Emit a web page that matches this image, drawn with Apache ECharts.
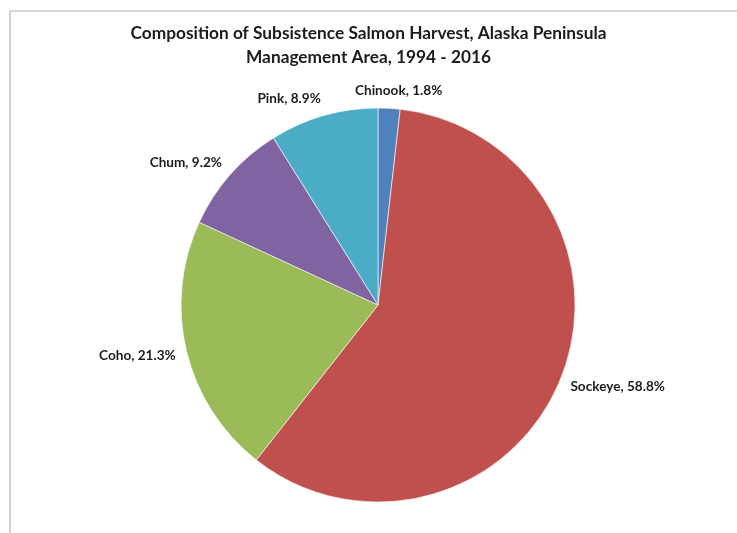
<!DOCTYPE html>
<html>
<head>
<meta charset="utf-8">
<script src="https://cdn.jsdelivr.net/npm/echarts@6/dist/echarts.min.js"></script>
<style>
  html, body { margin: 0; padding: 0; background: #fff; }
  #chart { width: 737px; height: 533px; }
</style>
</head>
<body>
<div id="chart"></div>
<script>
// Salmon species and their share of the subsistence harvest (%)
const species = ['Chinook', 'Sockeye', 'Coho', 'Chum', 'Pink'];
const shares = [1.8, 58.8, 21.3, 9.2, 8.9];
const sliceColors = ['#4F81BD', '#C0504D', '#9BBB59', '#8064A2', '#4BACC6'];

const titleText = 'Composition of Subsistence Salmon Harvest, Alaska Peninsula\nManagement Area, 1994 - 2016';

const CX = 378, CY = 305, R = 197, GAP = 11;
const total = shares.reduce((a, b) => a + b, 0);

// Mid angle of each slice (radians, clockwise from 12 o'clock)
const midAngles = [];
let acc = 0;
shares.forEach(v => {
  midAngles.push(((acc + v / 2) / total) * 2 * Math.PI);
  acc += v;
});

const clamp = v => Math.max(-1, Math.min(1, v));

const chart = echarts.init(document.getElementById('chart'), null, { renderer: 'canvas' });

chart.setOption({
  animation: false,
  backgroundColor: '#ffffff',
  graphic: [{
    type: 'rect',
    shape: { x: 10, y: 11, width: 760, height: 560 },
    style: { fill: 'none', stroke: '#b4b4b4', lineWidth: 1.2 },
    silent: true,
    z: -1
  }],
  title: {
    text: titleText,
    left: 'center',
    top: 16,
    textStyle: {
      fontFamily: 'Lato',
      fontWeight: 'bold',
      fontSize: 17.3,
      lineHeight: 24,
      color: '#1c1c1c'
    }
  },
  series: [{
    type: 'pie',
    center: [CX, CY],
    radius: [0, R],
    startAngle: 90,
    clockwise: true,
    avoidLabelOverlap: false,
    itemStyle: { borderColor: '#ffffff', borderWidth: 0.6 },
    label: {
      show: true,
      position: 'outside',
      formatter: p => p.name + ', ' + p.value.toFixed(1) + '%',
      fontFamily: 'Lato',
      fontWeight: 'bold',
      fontSize: 13.6,
      color: '#1c1c1c'
    },
    labelLine: { show: false },
    labelLayout: function (params) {
      const a = midAngles[params.dataIndex];
      const s = Math.sin(a), c = Math.cos(a);
      const px = CX + (R + GAP) * s;
      const py = CY - (R + GAP) * c;
      const w = params.labelRect.width, h = params.labelRect.height;
      return {
        x: px + (w / 2) * clamp(3.6 * s),
        y: py - (h / 2) * c,
        align: 'center',
        verticalAlign: 'middle'
      };
    },
    emphasis: { disabled: true },
    data: species.map((name, i) => ({
      name: name,
      value: shares[i],
      itemStyle: { color: sliceColors[i] }
    }))
  }]
});
</script>
</body>
</html>
